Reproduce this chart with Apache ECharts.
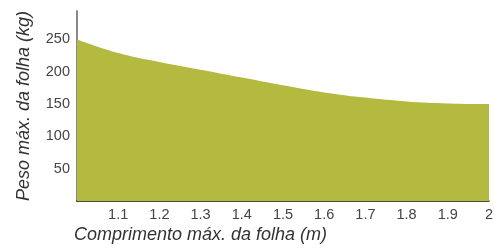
<!DOCTYPE html>
<html>
<head>
<meta charset="utf-8">
<script src="https://cdn.jsdelivr.net/npm/echarts@6/dist/echarts.min.js"></script>
<style>html,body{margin:0;padding:0;background:#fff}#c{width:494px;height:249px}</style>
</head>
<body>
<div id="c"></div>
<script>
const lengths = [1.0, 1.1, 1.2, 1.3, 1.4, 1.5, 1.6, 1.7, 1.8, 1.9, 2.0];
const weights = [250, 229, 215, 203, 191, 179, 168, 160, 154, 151, 150];
const xName = 'Comprimento máx. da folha (m)';
const yName = 'Peso máx. da folha (kg)';

const chart = echarts.init(document.getElementById('c'), null, {renderer: 'canvas'});
const font = 'Liberation Sans';
chart.setOption({
  animation: false,
  grid: {left: 77, right: 5, top: 11, bottom: 48, containLabel: false, outerBoundsMode: 'none'},
  graphic: [{
    type: 'text', left: 74, top: 226, silent: true,
    style: {text: xName, fontFamily: font, fontStyle: 'italic', fontSize: 18, fill: '#333'}
  }],
  xAxis: {
    type: 'value', min: 1, max: 2, interval: 0.1,
    axisLine: {lineStyle: {color: '#111', width: 1.5}},
    axisTick: {show: false},
    splitLine: {show: false},
    axisLabel: {showMinLabel: false, fontFamily: font, fontSize: 14.5, color: '#444', margin: 6}
  },
  yAxis: {
    type: 'value', min: 0, max: 294, interval: 50,
    name: yName, nameLocation: 'middle', nameGap: 44, nameRotate: 90,
    nameTextStyle: {fontFamily: font, fontStyle: 'italic', fontSize: 18, color: '#333'},
    axisLine: {show: true, lineStyle: {color: '#888', width: 2}},
    axisTick: {show: false},
    splitLine: {show: false},
    axisLabel: {showMinLabel: false, showMaxLabel: false, fontFamily: font, fontSize: 14.5, color: '#444', margin: 7}
  },
  series: [{
    type: 'line',
    data: lengths.map((x, i) => [x, weights[i]]),
    smooth: 0.4,
    symbol: 'none',
    lineStyle: {width: 0, color: '#b4b940'},
    areaStyle: {color: '#b4b940', opacity: 1},
    z: 1
  }]
});
</script>
</body>
</html>
